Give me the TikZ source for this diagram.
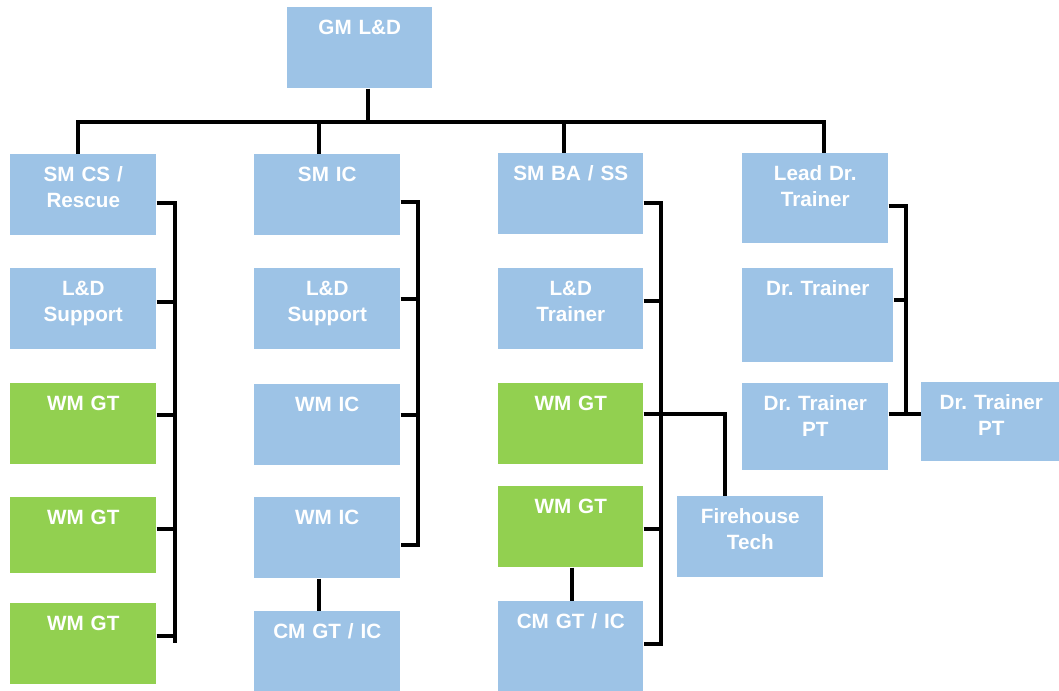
\documentclass[tikz,border=0pt]{standalone}
\usepackage{fontspec}
\setmainfont{Liberation Sans}
\frenchspacing
\definecolor{roleblue}{RGB}{157,195,230}
\definecolor{gtgreen}{RGB}{146,208,80}
\tikzstyle{rolebox}=[shape = rectangle, fill = roleblue, text = white, anchor = north west, inner sep = 0pt, align = center, text width = 109.5pt, text height = 20.25pt, text depth = 40.5pt, font = \bfseries\fontsize{15.5}{19.5}\selectfont]
\tikzstyle{gtbox}=[rolebox, fill = gtgreen]
\tikzstyle{link}=[line width = 3pt, draw = black]

\begin{document}
\begin{tikzpicture}[x = 0.75pt, y = -0.75pt]
\useasboundingbox (0,0) rectangle (1059,691);
\node[rolebox, text width = 108.75pt] (gm) at (287,7) {GM L\&D};
\node[rolebox] (c1a) at (10,154) {SM CS /\\Rescue};
\node[rolebox] (c1b) at (10,268) {L\&D\\Support};
\node[gtbox] (c1c) at (10,383) {WM GT};
\node[gtbox, text depth = 36.75pt] (c1d) at (10,497) {WM GT};
\node[gtbox] (c1e) at (10,603) {WM GT};
\node[rolebox] (c2a) at (254,154) {SM IC};
\node[rolebox] (c2b) at (254,268) {L\&D\\Support};
\node[rolebox] (c2c) at (254,384) {WM IC};
\node[rolebox] (c2d) at (254,497) {WM IC};
\node[rolebox, text depth = 47.25pt] (c2e) at (254,611) {CM GT / IC};
\node[rolebox, text width = 108.75pt] (c3a) at (498,153) {SM BA / SS};
\node[rolebox, text width = 108.75pt] (c3b) at (498,268) {L\&D\\Trainer};
\node[gtbox, text width = 108.75pt] (c3c) at (498,383) {WM GT};
\node[gtbox, text width = 108.75pt] (c3d) at (498,486) {WM GT};
\node[rolebox, text width = 108.75pt, text depth = 54.75pt] (c3e) at (498,601) {CM GT / IC};
\node[rolebox] (c3f) at (677,496) {Firehouse\\Tech};
\node[rolebox, text depth = 47.25pt] (c4a) at (742,153) {Lead Dr.\\Trainer};
\node[rolebox, text width = 113.25pt, text depth = 50.25pt] (c4b) at (742,268) {Dr. Trainer};
\node[rolebox, text depth = 45pt] (c4c) at (742,383) {Dr. Trainer\\PT};
\node[rolebox, text width = 105pt, text depth = 39pt] (c4d) at (921,382) {Dr. Trainer\\PT};
\coordinate (j0) at (368,122);
\coordinate (j1) at (78,122);
\coordinate (j2) at (319,122);
\coordinate (j3) at (564,122);
\coordinate (j4) at (824,122);
\coordinate (b1) at (175,203);
\coordinate (b2) at (418,202);
\coordinate (b3) at (661,203);
\coordinate (b4) at (906,206);
\coordinate (f1) at (725,414);
\draw[link] (c1a.north -| j1) -- (j1) -- (j4) -- (c4a.north -| j4);
\draw[link] (gm.south -| j0) -- (j0);
\draw[link] (j2) -- (c2a.north -| j2);
\draw[link] (j3) -- (c3a.north -| j3);
\draw[link] (c1a.east |- b1) -- (b1) -- (b1 |- 0,643);
\foreach \n/\y in {c1b/302, c1c/415, c1d/529, c1e/636}
  \draw[link] (\n.east |- 0,\y) -- (b1 |- 0,\y);
\draw[link] (c2a.east |- b2) -- (b2) -- (b2 |- 0,545) -- (c2d.east |- 0,545);
\foreach \n/\y in {c2b/299, c2c/415}
  \draw[link] (\n.east |- 0,\y) -- (b2 |- 0,\y);
\draw[link] (c2d.south -| j2) -- (c2e.north -| j2);
\draw[link] (c3a.east |- b3) -- (b3) -- (b3 |- 0,644) -- (c3e.east |- 0,644);
\foreach \n/\y in {c3b/301, c3c/414, c3d/529}
  \draw[link] (\n.east |- 0,\y) -- (b3 |- 0,\y);
\draw[link] (b3 |- f1) -- (f1) -- (f1 |- c3f.north);
\draw[link] (c3d.south -| 572,0) -- (c3e.north -| 572,0);
\draw[link] (c4a.east |- b4) -- (b4) -- (b4 |- f1);
\draw[link] (c4b.east |- 0,300) -- (b4 |- 0,300);
\draw[link] (c4c.east |- f1) -- (c4d.west |- f1);
\end{tikzpicture}
\end{document}
